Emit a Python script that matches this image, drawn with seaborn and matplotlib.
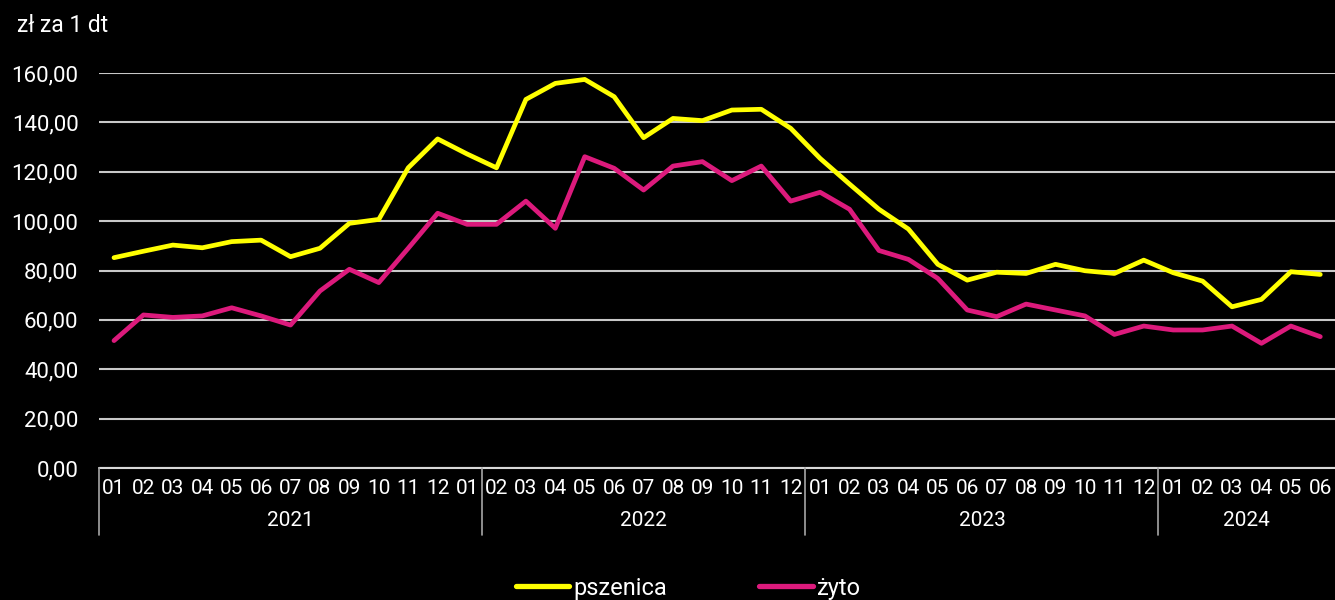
import numpy as np
import pandas as pd
import matplotlib
matplotlib.use("Agg")
import matplotlib.pyplot as plt
import matplotlib.transforms as mtransforms
import seaborn as sns

# dane: ceny zbóż (zł za 1 dt), miesiące 2021-01 .. 2024-06
miesiace = ["01", "02", "03", "04", "05", "06", "07", "08", "09", "10", "11", "12",
            "01", "02", "03", "04", "05", "06", "07", "08", "09", "10", "11", "12",
            "01", "02", "03", "04", "05", "06", "07", "08", "09", "10", "11", "12",
            "01", "02", "03", "04", "05", "06"]
lata = ["2021", "2022", "2023", "2024"]
lata_rozpietosc = [13, 11, 12, 6]  # tak jak w oryginalnym wykresie

pszenica = [85.2, 87.8, 90.3, 89.2, 91.7, 92.3, 85.6, 89.0, 99.1, 100.7, 121.6, 133.3,
            127.2, 121.6, 149.3, 155.8, 157.4, 150.4, 133.8, 141.6, 140.7, 145.0, 145.3, 137.6,
            125.4, 115.0, 104.8, 96.8, 82.5, 76.1, 79.3, 78.8, 82.5, 79.9, 78.8, 84.2,
            79.1, 75.7, 65.3, 68.3, 79.5, 78.4]
zyto = [51.6, 62.0, 61.0, 61.6, 64.9, 61.6, 57.9, 71.7, 80.5, 75.1, 89.0, 103.2,
        98.7, 98.7, 108.1, 97.1, 126.1, 121.4, 112.6, 122.3, 124.1, 116.4, 122.3, 108.1,
        111.7, 104.8, 88.1, 84.5, 76.8, 64.0, 61.3, 66.4, 64.0, 61.6, 54.1, 57.5,
        55.9, 55.9, 57.5, 50.5, 57.5, 53.2]

df = pd.DataFrame({
    "idx": list(range(len(miesiace))) * 2,
    "cena": pszenica + zyto,
    "zboze": ["pszenica"] * len(pszenica) + ["żyto"] * len(zyto),
})

sns.set_style("dark")
plt.rcParams["font.family"] = ["Roboto", "DejaVu Sans"]
plt.rcParams["text.color"] = "white"
waska = ["Liberation Sans Narrow", "Roboto", "DejaVu Sans"]  # podpisy osi X są węższe

fig = plt.figure(figsize=(13.35, 6), dpi=100, facecolor="black")
ax = fig.add_axes([99.3 / 1335, 1 - 468 / 600, 1 - 99.3 / 1335, 395 / 600])
ax.set_facecolor("black")

sns.lineplot(data=df, x="idx", y="cena", hue="zboze",
             palette={"pszenica": "#FFFF00", "żyto": "#DC1A7C"},
             linewidth=3.4, ax=ax, legend=False)

ax.set_xlim(-0.5, len(miesiace) - 0.5)
ax.set_ylim(0, 160)
ax.set_yticks(np.arange(0, 161, 20))
ax.set_yticklabels([f"{v:.2f}".replace(".", ",") for v in np.arange(0, 161, 20)])
ax.yaxis.grid(True, color="#c8c8c8", linewidth=1.5)
ax.xaxis.grid(False)
for s in ax.spines.values():
    s.set_visible(False)
ax.axhline(0, color="#d9d9d9", linewidth=1.5, clip_on=False)

ax.set_xticks(range(len(miesiace)))
ax.set_xticklabels(miesiace)
ax.tick_params(axis="both", length=0, colors="white")
ax.tick_params(axis="x", pad=8)
ax.tick_params(axis="y", pad=15, labelsize=16)
for t in ax.get_xticklabels():
    t.set_fontfamily(waska)
    t.set_fontsize(15)
ax.set_xlabel("")
ax.set_ylabel("")

# grupy lat pod osią
trans = mtransforms.blended_transform_factory(ax.transData, ax.transAxes)
granice = np.concatenate([[0], np.cumsum(lata_rozpietosc)]) - 0.5
for x in granice[:-1]:
    ax.plot([x, x], [0, -0.17], color="#a6a6a6", linewidth=1.2, transform=trans, clip_on=False)
for i, rok in enumerate(lata):
    srodek = (granice[i] + granice[i + 1]) / 2
    ax.text(srodek, -0.134, rok, transform=trans, ha="center", va="center",
            fontsize=15, color="white", family=waska)

fig.text(17 / 1335, 1 - 25 / 600, "zł za 1 dt", ha="left", va="center", fontsize=16.5)

uchwyty = [plt.Line2D([], [], color="#FFFF00", linewidth=3.8),
           plt.Line2D([], [], color="#DC1A7C", linewidth=3.8)]
leg = fig.legend(uchwyty, ["pszenica", "żyto"], loc="center", bbox_to_anchor=(0.5157, 0.02),
                 ncol=2, frameon=False, fontsize=17, handlelength=2.25,
                 handletextpad=0.2, columnspacing=3.9, labelcolor="white")

fig.savefig("out.png", dpi=100, facecolor="black")
